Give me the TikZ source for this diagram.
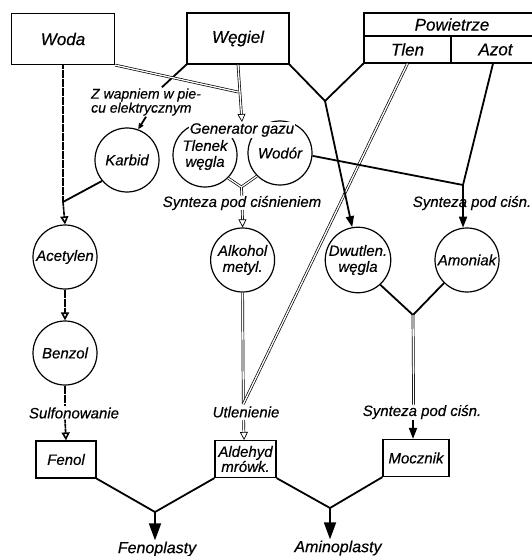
\documentclass[tikz,border=0pt]{standalone}
\usepackage{fontspec}
\setmainfont{Liberation Sans}[ItalicFeatures={FakeBold=0.4}]
\usetikzlibrary{positioning, arrows.meta}

\begin{document}
\begin{tikzpicture}[
  x=1pt, y=-1pt,
  rawbox/.style={draw, line width=1.2pt, minimum height=51pt, inner sep=0pt, font=\itshape\fontsize{17}{17}\selectfont},
  airbox/.style={draw, line width=1.2pt, inner sep=0pt, font=\itshape\fontsize{17}{17}\selectfont},
  prodbox/.style={draw, line width=1.2pt, minimum height=37pt, inner sep=0pt, align=center, font=\itshape\fontsize{15}{15}\selectfont},
  chem/.style={circle, draw, line width=1.2pt, minimum size=64pt, inner sep=0pt, align=center, font=\itshape\fontsize{15}{16}\selectfont},
  proc/.style={inner sep=1pt, font=\itshape\fontsize{15}{15}\selectfont},
  flow/.style={line width=1.8pt},
  gasflow/.style={double, line width=0.7pt, double distance=1.3pt},
  hatch/.style={line width=1.6pt, dash pattern=on 4pt off 0.5pt},
  opentip/.style={-{Triangle[open, length=8pt, width=8pt]}},
  solidtip/.style={-{Triangle[length=11pt, width=8pt]}},
  bigtip/.style={-{Triangle[length=17pt, width=12pt]}}
]
\useasboundingbox (0,0) rectangle (531,556);

% raw materials
\node[rawbox, minimum width=103pt] (woda) at (63,39) {Woda};
\node[rawbox, minimum width=102pt] (wegiel) at (238,38.5) {Węgiel};
\node[airbox, minimum width=176pt, minimum height=23pt] (powietrze) at (452,24.5) {Powietrze};
\node[airbox, minimum width=87pt, minimum height=27pt] (tlen) at (407.5,49.5) {Tlen};
\node[airbox, minimum width=89pt, minimum height=27pt] (azot) at (495.5,49.5) {Azot};

% intermediates
\node[chem] (karbid) at (127,160) {Karbid};
\node[chem] (acetylen) at (65,257) {Acetylen};
\node[chem] (benzol) at (65,353) {Benzol};
\node[chem] (tlenek) at (205,155) {Tlenek\\węgla};
\node[chem] (wodor) at (280,153) {Wodór};
\node[chem] (alkohol) at (242.6,260) {Alkohol\\metyl.};
\node[chem] (dwutlen) at (358,260) {Dwutlen.\\węgla};
\node[chem] (amoniak) at (467,260) {Amoniak};

% products
\node[prodbox, minimum width=60pt] (fenol) at (66,459.5) {Fenol};
\node[prodbox, minimum width=61pt] (aldehyd) at (245.5,459) {Aldehyd\\mrówk.};
\node[prodbox, minimum width=66pt] (mocznik) at (416,458) {Mocznik};
\node[proc, font=\itshape\fontsize{16}{16}\selectfont] (fenoplasty) at (157,549) {Fenoplasty};
\node[proc, font=\itshape\fontsize{16}{16}\selectfont] (aminoplasty) at (338,548) {Aminoplasty};

% process labels
\node[proc, align=left, font=\itshape\fontsize{14}{13}\selectfont] (lwapno) at (146,102) {Z wapniem w pie-\\cu elektrycznym};
\node[proc, fill=white, font=\itshape\fontsize{15}{15}\selectfont] (lgen) at (242,130) {Generator gazu};
\node[proc] (lsyntA) at (242,203) {Synteza pod ciśnieniem};
\node[proc] (lsyntB) at (472,203) {Synteza pod ciśn.};
\node[proc] (lutl) at (246,412) {Utlenienie};
\node[proc] (lsulf) at (74,413) {Sulfonowanie};
\node[proc] (lsyntC) at (422,412) {Synteza pod ciśn.};

% junctions (kept a hair off the vertical, plain vertical double lines vanish)
\coordinate (jkarb) at (63,202);
\coordinate (jwoda) at (238,92);
\coordinate (jwt) at (325,101);
\coordinate (jazot) at (463,185);
\coordinate (jgas) at (241.4,187);
\coordinate (jsyntA) at (241.9,196);
\coordinate (jsyntB) at (242.3,210);
\coordinate (jutl) at (243.3,404);
\coordinate (jutlB) at (243.6,420);
\coordinate (jutlC) at (244.1,440);
\coordinate (jurea) at (413,315);
\coordinate (jureaend) at (413.6,405);
\coordinate (jfen) at (155,512);
\coordinate (jamin) at (330,508);

% acetylene line
\draw[hatch] (woda.south) -- (jkarb);
\draw[hatch, opentip] (jkarb) -- (acetylen.north);
\draw[flow] (karbid.220) -- (jkarb);
\draw[flow] (wegiel.south west) -- (lwapno);
\draw[flow, -{Triangle[length=6pt, width=5pt]}] (lwapno.south) -- (karbid.70);
\draw[hatch, opentip] (acetylen.south) -- (benzol.north);
\draw[hatch] (benzol.south) -- (benzol.south |- lsulf.north);
\draw[hatch, opentip] (benzol.south |- lsulf.south) -- (fenol.north);

% water gas and methanol
\draw[gasflow] (woda.south east) -- (jwoda);
\draw[gasflow, opentip] (wegiel.south) -- (lgen.north);
\draw[gasflow] (tlenek.-45) -- (jgas) -- (wodor.225);
\draw[gasflow] (jgas) -- (jsyntA);
\draw[gasflow, opentip] (jsyntB) -- (alkohol.north);
\draw[gasflow] (alkohol.south) -- (jutl);
\draw[gasflow] (tlen.south) -- (jutl);
\draw[gasflow, opentip] (jutlB) -- (jutlC);

% carbon dioxide and ammonia
\draw[flow] (wegiel.south east) -- (jwt) -- (tlen.south west);
\draw[flow, solidtip] (jwt) -- (dwutlen.100);
\draw[flow] (azot.south -| 493,0) -- (jazot);
\draw[flow] (wodor.-5) -- (jazot);
\draw[flow, solidtip] (jazot) -- (amoniak.97);
\draw[flow] (dwutlen.-48) -- (jurea) -- (amoniak.225);
\draw[gasflow] (jurea) -- (jureaend);
\draw[flow, solidtip] (jurea |- lsyntC.south) -- (jurea |- mocznik.north);

% plastics
\draw[flow] (fenol.south east) -- (jfen) -- (aldehyd.south west);
\draw[flow, bigtip] (jfen) -- (fenoplasty.north -| jfen);
\draw[flow] (aldehyd.south east) -- (jamin) -- (mocznik.south west);
\draw[flow, bigtip] (jamin) -- (aminoplasty.north -| jamin);

\end{tikzpicture}
\end{document}
